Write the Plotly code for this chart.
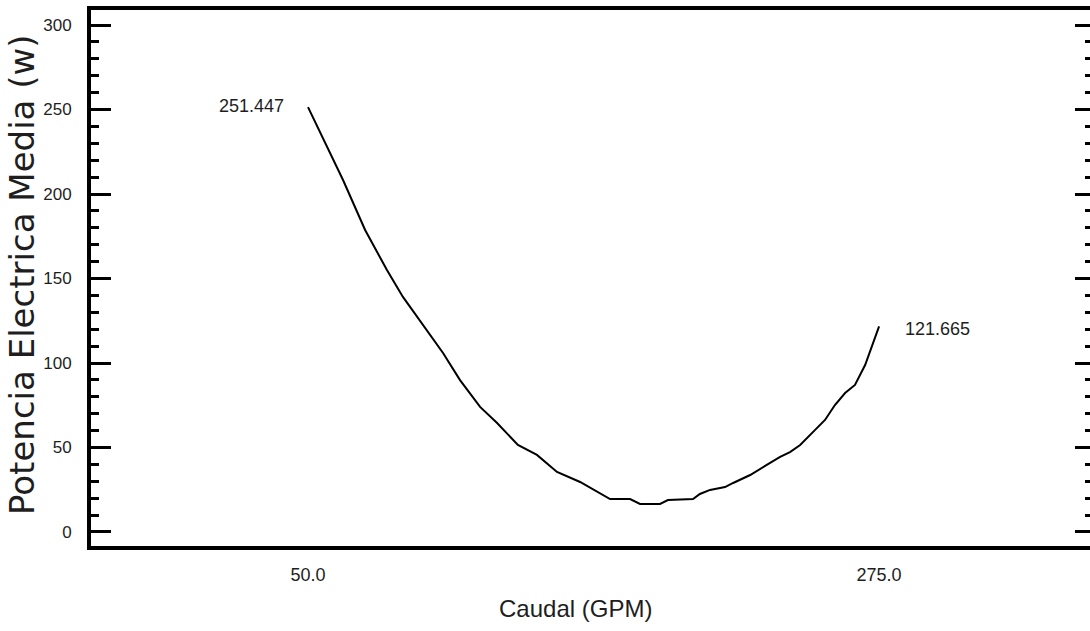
import plotly.graph_objects as go

# Data
caudal_gpm = [50.0, 57.5, 63.8, 72.5, 81.1, 87.4, 96.1, 103.2, 109.9, 117.8, 124.5,
              132.7, 140.2, 148.1, 157.2, 163.9, 169.0, 176.9, 180.8, 188.7, 191.8,
              201.7, 204.4, 208.4, 214.3, 217.5, 224.2, 230.1, 236.0, 239.9, 243.9,
              249.8, 253.7, 257.6, 261.6, 265.5, 269.5, 275.0]
potencia_w = [251.447, 227.8, 208.3, 178.7, 155.0, 139.1, 120.7, 105.9, 89.9, 74.0, 64.5,
              51.5, 45.6, 35.5, 29.6, 23.7, 19.5, 19.5, 16.6, 16.6, 18.9,
              19.5, 22.5, 24.9, 26.6, 29.0, 33.7, 39.1, 44.4, 47.3, 51.5,
              60.4, 66.3, 75.1, 82.2, 87.0, 98.8, 121.665]
x_tick_vals = [50.0, 275.0]
x_tick_text = ["50.0", "275.0"]
y_tick_vals = [0, 50, 100, 150, 200, 250, 300]

x_title = "Caudal (GPM)"
y_title = "Potencia Electrica Media (w)"

SANS = "Liberation Sans, Arial, sans-serif"
TXT = "#1e1e1e"

# plot-area pixel geometry
L, R, T, B = 91, 1090, 10, 546
PH = B - T
PW = R - L

fig = go.Figure()
fig.add_trace(go.Scatter(x=caudal_gpm, y=potencia_w, mode="lines",
                         line=dict(color="black", width=2), showlegend=False,
                         hoverinfo="skip"))
# same series attached to the mirrored right axis (invisible) so its ticks render
fig.add_trace(go.Scatter(x=caudal_gpm, y=potencia_w, mode="lines", yaxis="y2",
                         line=dict(color="rgba(0,0,0,0)", width=0), showlegend=False,
                         hoverinfo="skip"))

fig.add_annotation(x=caudal_gpm[0], y=potencia_w[0], xref="x", yref="y",
                   text=f"{potencia_w[0]:.3f}", showarrow=False,
                   xanchor="right", yanchor="middle", xshift=-22, yshift=1,
                   font=dict(family=SANS, size=18, color=TXT))
fig.add_annotation(x=caudal_gpm[-1], y=potencia_w[-1], xref="x", yref="y",
                   text=f"{potencia_w[-1]:.3f}", showarrow=False,
                   xanchor="left", yanchor="middle", xshift=24, yshift=-3,
                   font=dict(family=SANS, size=18, color=TXT))

# axis titles (placed in pixel terms relative to plot area)
fig.add_annotation(x=(575 - L) / PW, y=-(608 - B) / PH, xref="paper", yref="paper",
                   text=x_title, showarrow=False, xanchor="center", yanchor="middle",
                   font=dict(family=SANS, size=24, color=TXT))
fig.add_annotation(x=-(L - 22) / PW, y=(B - 275) / PH, xref="paper", yref="paper",
                   text=y_title, showarrow=False, textangle=-90,
                   xanchor="center", yanchor="middle",
                   font=dict(family="DejaVu Sans", size=34, color=TXT))

fig.update_layout(
    width=1090, height=631,
    margin=dict(l=L, r=1090 - R, t=T, b=631 - B, pad=0),
    paper_bgcolor="white", plot_bgcolor="white",
    xaxis=dict(range=[-35.5, 358.1], tickmode="array", tickvals=x_tick_vals,
               ticktext=x_tick_text, ticks="", showgrid=False, zeroline=False,
               showline=True, linecolor="black", linewidth=4, mirror=True,
               ticklabelstandoff=9,
               tickfont=dict(family=SANS, size=18, color=TXT)),
    yaxis=dict(range=[-8.3, 308.9], tickmode="array", tickvals=y_tick_vals,
               ticks="inside", ticklen=20, tickwidth=3, tickcolor="black",
               minor=dict(dtick=10, ticks="inside", ticklen=8, tickwidth=2.5,
                          tickcolor="black", showgrid=False),
               showgrid=False, zeroline=False, showline=True, linecolor="black",
               linewidth=4, ticklabelstandoff=12,
               tickfont=dict(family=SANS, size=17, color=TXT)),
    yaxis2=dict(range=[-8.3, 308.9], overlaying="y", side="right",
                tickmode="array", tickvals=y_tick_vals, showticklabels=False,
                ticks="inside", ticklen=15, tickwidth=3, tickcolor="black",
                minor=dict(dtick=10, ticks="inside", ticklen=5, tickwidth=2.5,
                           tickcolor="black", showgrid=False),
                showgrid=False, zeroline=False, showline=False),
)

fig.write_html("out.html")
